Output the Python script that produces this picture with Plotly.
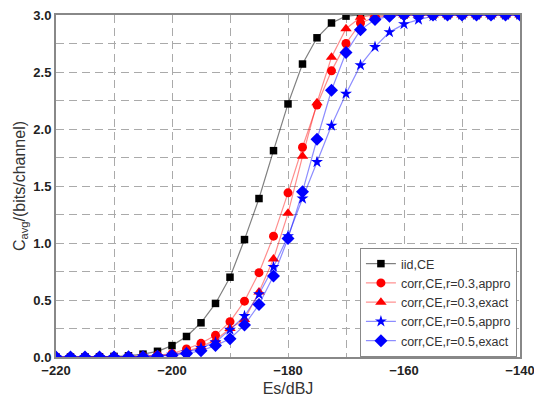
import plotly.graph_objects as go

es = [-220, -217.5, -215, -212.5, -210, -207.5, -205, -202.5, -200, -197.5, -195, -192.5,
      -190, -187.5, -185, -182.5, -180, -177.5, -175, -172.5, -170, -167.5, -165, -162.5,
      -160, -157.5, -155, -152.5, -150, -147.5, -145, -142.5, -140]

iid_ce = [0, 0, 0.001, 0.002, 0.005, 0.01, 0.025, 0.05, 0.10, 0.18, 0.30, 0.47,
          0.70, 1.03, 1.39, 1.81, 2.22, 2.57, 2.80, 2.93, 2.99, 3.0, 3.0, 3.0,
          3.0, 3.0, 3.0, 3.0, 3.0, 3.0, 3.0, 3.0, 3.0]
r03_appro = [0, 0, 0, 0, 0.001, 0.003, 0.007, 0.015, 0.03, 0.07, 0.12, 0.19,
             0.31, 0.49, 0.74, 1.06, 1.44, 1.84, 2.21, 2.51, 2.75, 2.93, 2.98, 2.995,
             3.0, 3.0, 3.0, 3.0, 3.0, 3.0, 3.0, 3.0, 3.0]
r03_exact = [0, 0, 0, 0, 0.001, 0.002, 0.005, 0.01, 0.02, 0.05, 0.09, 0.15,
             0.25, 0.33, 0.57, 0.86, 1.26, 1.76, 2.23, 2.63, 2.88, 2.98, 3.0, 3.0,
             3.0, 3.0, 3.0, 3.0, 3.0, 3.0, 3.0, 3.0, 3.0]
r05_appro = [0, 0, 0, 0, 0.001, 0.002, 0.005, 0.01, 0.02, 0.04, 0.08, 0.13,
             0.24, 0.36, 0.55, 0.79, 1.06, 1.39, 1.71, 2.03, 2.31, 2.56, 2.72, 2.85,
             2.92, 2.96, 2.99, 3.0, 3.0, 3.0, 3.0, 3.0, 3.0]
r05_exact = [0, 0, 0, 0, 0.001, 0.002, 0.003, 0.007, 0.015, 0.03, 0.055, 0.10,
             0.16, 0.28, 0.46, 0.71, 1.04, 1.45, 1.91, 2.34, 2.67, 2.87, 2.96, 2.99,
             3.0, 3.0, 3.0, 3.0, 3.0, 3.0, 3.0, 3.0, 3.0]

series = [
    ("iid,CE", iid_ce, "#000000", "rgba(0,0,0,0.5)", "square", 7.5),
    ("corr,CE,r=0.3,appro", r03_appro, "#ff0000", "rgba(255,0,0,0.45)", "circle", 9),
    ("corr,CE,r=0.3,exact", r03_exact, "#ff0000", "rgba(255,0,0,0.45)", "triangle-up", 10),
    ("corr,CE,r=0.5,appro", r05_appro, "#0000ff", "rgba(0,0,255,0.45)", "star", 9),
    ("corr,CE,r=0.5,exact", r05_exact, "#0000ff", "rgba(0,0,255,0.45)", "diamond", 10),
]

fig = go.Figure()
for name, vals, mc, lc, sym, sz in series:
    fig.add_trace(go.Scatter(
        x=es, y=vals, name=name, mode="lines+markers",
        line=dict(color=lc, width=1.2),
        marker=dict(symbol=sym, size=sz, color=mc, line=dict(width=0)),
    ))

grid_dash = "8px,5px"
axis_common = dict(
    showline=True, linecolor="#888888", linewidth=2, mirror=True,
    ticks="", showgrid=True, gridcolor="#aaaaaa", griddash=grid_dash, gridwidth=1,
    zeroline=False, ticklabeloverflow="allow",
    tickfont=dict(family="Liberation Sans, Arial", size=13, color="#222222", weight="bold"),
)

fig.update_xaxes(
    range=[-220, -140], dtick=20, tick0=-220,
    minor=dict(dtick=10, showgrid=True, gridcolor="#aaaaaa", griddash=grid_dash, gridwidth=1),
    title=dict(text="Es/dBJ", font=dict(family="Liberation Sans, Arial", size=16, color="#333333"), standoff=6),
    **axis_common,
)
fig.update_yaxes(
    range=[0, 3], dtick=0.5, tick0=0, tickformat=".1f",
    minor=dict(dtick=0.25, showgrid=True, gridcolor="#aaaaaa", griddash=grid_dash, gridwidth=1),
    title=dict(text="C<sub>avg</sub>/(bits/channel)", font=dict(family="Liberation Sans, Arial", size=16, color="#333333"), standoff=4),
    **axis_common,
)

fig.update_layout(
    width=534, height=403,
    margin=dict(l=56, r=14, t=15, b=46, autoexpand=False),
    plot_bgcolor="white", paper_bgcolor="white",
    legend=dict(
        x=0.655, y=0, xanchor="left", yanchor="bottom",
        bgcolor="white", bordercolor="#888888", borderwidth=1,
        font=dict(family="Liberation Sans, Arial", size=12.5, color="#333333"),
        tracegroupgap=0,
    ),
)

fig.write_html("out.html")
